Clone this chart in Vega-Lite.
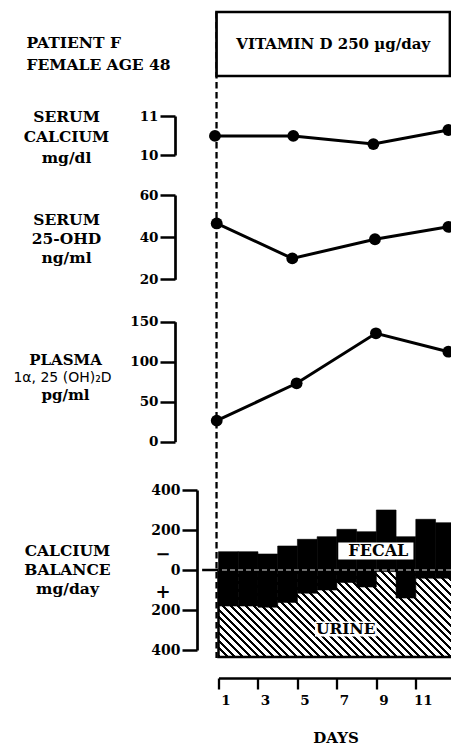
{
  "$schema": "https://vega.github.io/schema/vega-lite/v6.json",
  "autosize": {"type": "none"},
  "width": 232.5,
  "height": 646,
  "padding": {"left": 218.5, "top": 12, "right": 0, "bottom": 89},
  "background": "white",
  "config": {
    "view": {"stroke": null},
    "axis": {"grid": false, "domainColor": "black", "tickColor": "black", "labelColor": "black", "titleColor": "black",
      "labelFont": "DejaVu Serif", "labelFontWeight": "bold", "titleFont": "DejaVu Serif", "titleFontWeight": "bold",
      "labelFlush": false, "labelOverlap": false}
  },
  "datasets": {
    "treatment": [{"label": "VITAMIN D 250 µg/day", "start": 0.4, "end": 12.23}],
    "measurements": [
      {"measure": "Serum calcium", "day": 0.32, "value": 10.49},
      {"measure": "Serum calcium", "day": 4.29, "value": 10.49},
      {"measure": "Serum calcium", "day": 8.35, "value": 10.28},
      {"measure": "Serum calcium", "day": 12.15, "value": 10.64},
      {"measure": "Serum 25-OHD", "day": 0.41, "value": 46.5},
      {"measure": "Serum 25-OHD", "day": 4.24, "value": 29.9},
      {"measure": "Serum 25-OHD", "day": 8.43, "value": 39.0},
      {"measure": "Serum 25-OHD", "day": 12.15, "value": 44.9},
      {"measure": "Plasma 1,25(OH)2D", "day": 0.41, "value": 26.3},
      {"measure": "Plasma 1,25(OH)2D", "day": 4.46, "value": 73},
      {"measure": "Plasma 1,25(OH)2D", "day": 8.48, "value": 135.5},
      {"measure": "Plasma 1,25(OH)2D", "day": 12.15, "value": 112.5}
    ],
    "balance": [
      {"day": 1, "fecalTop": 91.5, "urineTop": -180},
      {"day": 2, "fecalTop": 91.5, "urineTop": -180},
      {"day": 3, "fecalTop": 80, "urineTop": -186},
      {"day": 4, "fecalTop": 120, "urineTop": -162},
      {"day": 5, "fecalTop": 153.5, "urineTop": -116},
      {"day": 6, "fecalTop": 166.5, "urineTop": -100},
      {"day": 7, "fecalTop": 203.5, "urineTop": -62},
      {"day": 8, "fecalTop": 191.5, "urineTop": -85},
      {"day": 9, "fecalTop": 300, "urineTop": -8},
      {"day": 10, "fecalTop": 166.5, "urineTop": -140},
      {"day": 11, "fecalTop": 253.5, "urineTop": -41},
      {"day": 12, "fecalTop": 236.5, "urineTop": -41}
    ],
    "intake": [{"firstDay": 0.5, "lastDay": 12.5, "upper": 0, "intake": -435}]
  },
  "resolve": {"scale": {"y": "independent"}, "axis": {"y": "independent"}},
  "layer": [
    {
      "data": {"name": "treatment"},
      "mark": {"type": "rule", "color": "black", "strokeWidth": 2.3, "strokeDash": [6.5, 3.5]},
      "encoding": {"x": {"field": "start", "type": "quantitative", "scale": {"domain": [0.5, 12.284], "nice": false, "zero": false}}}
    },
    {
      "data": {"name": "treatment"},
      "layer": [
        {
          "mark": {"type": "rect", "fill": "white", "stroke": "black", "strokeWidth": 2.7},
          "encoding": {
            "x": {"field": "start", "type": "quantitative", "scale": {"domain": [0.5, 12.284], "nice": false, "zero": false}},
            "x2": {"field": "end"},
            "y": {"datum": 0, "type": "quantitative", "scale": {"domain": [0, 1], "range": [64, 0], "nice": false, "zero": false},
              "axis": {"orient": "left", "offset": 43.5, "domain": false, "ticks": false, "labels": false,
                "title": ["PATIENT F", "FEMALE AGE 48"], "titleAngle": 0, "titleAlign": "left", "titleBaseline": "middle",
                "titleX": -149, "titleY": 30, "titleFontSize": 15.5, "titleLineHeight": 22.5}},
            "y2": {"datum": 1}
          }
        },
        {
          "transform": [{"calculate": "(datum.start + datum.end) / 2", "as": "mid"}],
          "mark": {"type": "text", "font": "DejaVu Serif", "fontWeight": "bold", "fontSize": 15, "color": "black"},
          "encoding": {
            "x": {"field": "mid", "type": "quantitative", "scale": {"domain": [0.5, 12.284], "nice": false, "zero": false}},
            "y": {"datum": 0.5, "type": "quantitative", "scale": {"domain": [0, 1], "range": [64, 0], "nice": false, "zero": false}},
            "text": {"field": "label"}
          }
        }
      ]
    },
    {
      "data": {"name": "measurements"},
      "transform": [{"filter": "datum.measure == 'Serum calcium'"}],
      "encoding": {
        "x": {"field": "day", "type": "quantitative", "scale": {"domain": [0.5, 12.284], "nice": false, "zero": false}},
        "y": {"field": "value", "type": "quantitative", "scale": {"domain": [10, 11], "range": [143, 104], "nice": false, "zero": false},
          "axis": {"orient": "left", "offset": 43.5, "values": [10, 11], "format": "d", "tickSize": 15, "tickWidth": 2.5, "domainWidth": 2.7,
            "labelFontSize": 13.5, "labelPadding": 2,
            "title": ["SERUM", "CALCIUM", "mg/dl"], "titleAngle": 0, "titleAlign": "center", "titleBaseline": "middle",
            "titleX": -109, "titleY": 104, "titleFontSize": 15.5, "titleLineHeight": 20.5}}
      },
      "layer": [
        {"mark": {"type": "line", "color": "black", "strokeWidth": 3}},
        {"mark": {"type": "point", "filled": true, "size": 140, "color": "black", "opacity": 1}}
      ]
    },
    {
      "data": {"name": "measurements"},
      "transform": [{"filter": "datum.measure == 'Serum 25-OHD'"}],
      "encoding": {
        "x": {"field": "day", "type": "quantitative", "scale": {"domain": [0.5, 12.284], "nice": false, "zero": false}},
        "y": {"field": "value", "type": "quantitative", "scale": {"domain": [20, 60], "range": [267.3, 183], "nice": false, "zero": false},
          "axis": {"orient": "left", "offset": 43.5, "values": [20, 40, 60], "format": "d", "tickSize": 15, "tickWidth": 2.5, "domainWidth": 2.7,
            "labelFontSize": 13.5, "labelPadding": 2,
            "title": ["SERUM", "25-OHD", "ng/ml"], "titleAngle": 0, "titleAlign": "center", "titleBaseline": "middle",
            "titleX": -109, "titleY": 207, "titleFontSize": 15.5, "titleLineHeight": 19}}
      },
      "layer": [
        {"mark": {"type": "line", "color": "black", "strokeWidth": 3}},
        {"mark": {"type": "point", "filled": true, "size": 140, "color": "black", "opacity": 1}}
      ]
    },
    {
      "data": {"name": "measurements"},
      "transform": [{"filter": "datum.measure == 'Plasma 1,25(OH)2D'"}],
      "resolve": {"scale": {"y": "independent"}, "axis": {"y": "independent"}},
      "layer": [
        {
          "mark": {"type": "line", "color": "black", "strokeWidth": 3},
          "encoding": {
            "x": {"field": "day", "type": "quantitative", "scale": {"domain": [0.5, 12.284], "nice": false, "zero": false}},
            "y": {"field": "value", "type": "quantitative", "scale": {"domain": [0, 150], "range": [429.7, 309.7], "nice": false, "zero": false},
              "axis": {"orient": "left", "offset": 43.5, "values": [0, 50, 100, 150], "format": "d", "tickSize": 15, "tickWidth": 2.5, "domainWidth": 2.7,
                "labelFontSize": 13.5, "labelPadding": 2,
                "title": ["PLASMA", "pg/ml"], "titleAngle": 0, "titleAlign": "center", "titleBaseline": "middle",
                "titleX": -110, "titleY": 347, "titleFontSize": 15, "titleLineHeight": 35}}
          }
        },
        {
          "mark": {"type": "point", "filled": true, "size": 140, "color": "black", "opacity": 1},
          "encoding": {
            "x": {"field": "day", "type": "quantitative", "scale": {"domain": [0.5, 12.284], "nice": false, "zero": false}},
            "y": {"field": "value", "type": "quantitative", "scale": {"domain": [0, 150], "range": [429.7, 309.7], "nice": false, "zero": false},
              "axis": {"orient": "left", "offset": 43.5, "domain": false, "ticks": false, "labels": false,
                "title": "1α, 25 (OH)₂D", "titleFont": "DejaVu Sans", "titleFontWeight": "normal", "titleAngle": 0, "titleAlign": "center", "titleBaseline": "middle",
                "titleX": -113, "titleY": 365, "titleFontSize": 14}}
          }
        }
      ]
    },
    {
      "layer": [
        {
          "data": {"name": "intake"},
          "mark": {"type": "rect", "stroke": "black", "strokeWidth": 2.5,
            "fill": {"gradient": "linear", "x1": 0, "y1": 1, "x2": 1.2048, "y2": 0.5573, "stops": [
              {"offset": 0, "color": "black"}, {"offset": 0.00929, "color": "black"}, {"offset": 0.00929, "color": "white"}, {"offset": 0.02381, "color": "white"},
              {"offset": 0.02381, "color": "black"}, {"offset": 0.03310, "color": "black"}, {"offset": 0.03310, "color": "white"}, {"offset": 0.04762, "color": "white"},
              {"offset": 0.04762, "color": "black"}, {"offset": 0.05690, "color": "black"}, {"offset": 0.05690, "color": "white"}, {"offset": 0.07143, "color": "white"},
              {"offset": 0.07143, "color": "black"}, {"offset": 0.08071, "color": "black"}, {"offset": 0.08071, "color": "white"}, {"offset": 0.09524, "color": "white"},
              {"offset": 0.09524, "color": "black"}, {"offset": 0.10452, "color": "black"}, {"offset": 0.10452, "color": "white"}, {"offset": 0.11905, "color": "white"},
              {"offset": 0.11905, "color": "black"}, {"offset": 0.12833, "color": "black"}, {"offset": 0.12833, "color": "white"}, {"offset": 0.14286, "color": "white"},
              {"offset": 0.14286, "color": "black"}, {"offset": 0.15214, "color": "black"}, {"offset": 0.15214, "color": "white"}, {"offset": 0.16667, "color": "white"},
              {"offset": 0.16667, "color": "black"}, {"offset": 0.17595, "color": "black"}, {"offset": 0.17595, "color": "white"}, {"offset": 0.19048, "color": "white"},
              {"offset": 0.19048, "color": "black"}, {"offset": 0.19976, "color": "black"}, {"offset": 0.19976, "color": "white"}, {"offset": 0.21429, "color": "white"},
              {"offset": 0.21429, "color": "black"}, {"offset": 0.22357, "color": "black"}, {"offset": 0.22357, "color": "white"}, {"offset": 0.23810, "color": "white"},
              {"offset": 0.23810, "color": "black"}, {"offset": 0.24738, "color": "black"}, {"offset": 0.24738, "color": "white"}, {"offset": 0.26190, "color": "white"},
              {"offset": 0.26190, "color": "black"}, {"offset": 0.27119, "color": "black"}, {"offset": 0.27119, "color": "white"}, {"offset": 0.28571, "color": "white"},
              {"offset": 0.28571, "color": "black"}, {"offset": 0.29500, "color": "black"}, {"offset": 0.29500, "color": "white"}, {"offset": 0.30952, "color": "white"},
              {"offset": 0.30952, "color": "black"}, {"offset": 0.31881, "color": "black"}, {"offset": 0.31881, "color": "white"}, {"offset": 0.33333, "color": "white"},
              {"offset": 0.33333, "color": "black"}, {"offset": 0.34262, "color": "black"}, {"offset": 0.34262, "color": "white"}, {"offset": 0.35714, "color": "white"},
              {"offset": 0.35714, "color": "black"}, {"offset": 0.36643, "color": "black"}, {"offset": 0.36643, "color": "white"}, {"offset": 0.38095, "color": "white"},
              {"offset": 0.38095, "color": "black"}, {"offset": 0.39024, "color": "black"}, {"offset": 0.39024, "color": "white"}, {"offset": 0.40476, "color": "white"},
              {"offset": 0.40476, "color": "black"}, {"offset": 0.41405, "color": "black"}, {"offset": 0.41405, "color": "white"}, {"offset": 0.42857, "color": "white"},
              {"offset": 0.42857, "color": "black"}, {"offset": 0.43786, "color": "black"}, {"offset": 0.43786, "color": "white"}, {"offset": 0.45238, "color": "white"},
              {"offset": 0.45238, "color": "black"}, {"offset": 0.46167, "color": "black"}, {"offset": 0.46167, "color": "white"}, {"offset": 0.47619, "color": "white"},
              {"offset": 0.47619, "color": "black"}, {"offset": 0.48548, "color": "black"}, {"offset": 0.48548, "color": "white"}, {"offset": 0.50000, "color": "white"},
              {"offset": 0.50000, "color": "black"}, {"offset": 0.50929, "color": "black"}, {"offset": 0.50929, "color": "white"}, {"offset": 0.52381, "color": "white"},
              {"offset": 0.52381, "color": "black"}, {"offset": 0.53310, "color": "black"}, {"offset": 0.53310, "color": "white"}, {"offset": 0.54762, "color": "white"},
              {"offset": 0.54762, "color": "black"}, {"offset": 0.55690, "color": "black"}, {"offset": 0.55690, "color": "white"}, {"offset": 0.57143, "color": "white"},
              {"offset": 0.57143, "color": "black"}, {"offset": 0.58071, "color": "black"}, {"offset": 0.58071, "color": "white"}, {"offset": 0.59524, "color": "white"},
              {"offset": 0.59524, "color": "black"}, {"offset": 0.60452, "color": "black"}, {"offset": 0.60452, "color": "white"}, {"offset": 0.61905, "color": "white"},
              {"offset": 0.61905, "color": "black"}, {"offset": 0.62833, "color": "black"}, {"offset": 0.62833, "color": "white"}, {"offset": 0.64286, "color": "white"},
              {"offset": 0.64286, "color": "black"}, {"offset": 0.65214, "color": "black"}, {"offset": 0.65214, "color": "white"}, {"offset": 0.66667, "color": "white"},
              {"offset": 0.66667, "color": "black"}, {"offset": 0.67595, "color": "black"}, {"offset": 0.67595, "color": "white"}, {"offset": 0.69048, "color": "white"},
              {"offset": 0.69048, "color": "black"}, {"offset": 0.69976, "color": "black"}, {"offset": 0.69976, "color": "white"}, {"offset": 0.71429, "color": "white"},
              {"offset": 0.71429, "color": "black"}, {"offset": 0.72357, "color": "black"}, {"offset": 0.72357, "color": "white"}, {"offset": 0.73810, "color": "white"},
              {"offset": 0.73810, "color": "black"}, {"offset": 0.74738, "color": "black"}, {"offset": 0.74738, "color": "white"}, {"offset": 0.76190, "color": "white"},
              {"offset": 0.76190, "color": "black"}, {"offset": 0.77119, "color": "black"}, {"offset": 0.77119, "color": "white"}, {"offset": 0.78571, "color": "white"},
              {"offset": 0.78571, "color": "black"}, {"offset": 0.79500, "color": "black"}, {"offset": 0.79500, "color": "white"}, {"offset": 0.80952, "color": "white"},
              {"offset": 0.80952, "color": "black"}, {"offset": 0.81881, "color": "black"}, {"offset": 0.81881, "color": "white"}, {"offset": 0.83333, "color": "white"},
              {"offset": 0.83333, "color": "black"}, {"offset": 0.84262, "color": "black"}, {"offset": 0.84262, "color": "white"}, {"offset": 0.85714, "color": "white"},
              {"offset": 0.85714, "color": "black"}, {"offset": 0.86643, "color": "black"}, {"offset": 0.86643, "color": "white"}, {"offset": 0.88095, "color": "white"},
              {"offset": 0.88095, "color": "black"}, {"offset": 0.89024, "color": "black"}, {"offset": 0.89024, "color": "white"}, {"offset": 0.90476, "color": "white"},
              {"offset": 0.90476, "color": "black"}, {"offset": 0.91405, "color": "black"}, {"offset": 0.91405, "color": "white"}, {"offset": 0.92857, "color": "white"},
              {"offset": 0.92857, "color": "black"}, {"offset": 0.93786, "color": "black"}, {"offset": 0.93786, "color": "white"}, {"offset": 0.95238, "color": "white"},
              {"offset": 0.95238, "color": "black"}, {"offset": 0.96167, "color": "black"}, {"offset": 0.96167, "color": "white"}, {"offset": 0.97619, "color": "white"},
              {"offset": 0.97619, "color": "black"}, {"offset": 0.98548, "color": "black"}, {"offset": 0.98548, "color": "white"}, {"offset": 1, "color": "white"}
            ]}},
          "encoding": {
            "x": {"field": "firstDay", "type": "quantitative", "scale": {"domain": [0.5, 12.284], "nice": false, "zero": false}},
            "x2": {"field": "lastDay"},
            "y": {"field": "upper", "type": "quantitative", "scale": {"domain": [-400, 400], "range": [638, 478], "nice": false, "zero": false}},
            "y2": {"field": "intake"}
          }
        },
        {
          "data": {"name": "balance"},
          "transform": [
            {"calculate": "datum.day - 0.5", "as": "start"},
            {"calculate": "datum.day + 0.5", "as": "end"}
          ],
          "mark": {"type": "rect", "fill": "black", "stroke": "black", "strokeWidth": 0.6},
          "encoding": {
            "x": {"field": "start", "type": "quantitative", "scale": {"domain": [0.5, 12.284], "nice": false, "zero": false},
              "axis": {"orient": "bottom", "offset": 20, "values": [0.5, 1.5, 2.5, 3.5, 4.5, 5.5, 6.5, 7.5, 8.5, 9.5, 10.5, 11.5],
                "tickSize": 11, "tickWidth": 2.3, "domainWidth": 2.7,
                "labelExpr": "(datum.value + 0.5) % 2 == 1 ? '' + (datum.value + 0.5) : ''",
                "labelOffset": 7, "labelPadding": 4, "labelFontSize": 13.5,
                "title": "DAYS", "titleX": 117, "titleY": 59, "titleAlign": "center", "titleBaseline": "middle", "titleFontSize": 15}},
            "x2": {"field": "end"},
            "y": {"field": "fecalTop", "type": "quantitative", "scale": {"domain": [-400, 400], "range": [638, 478], "nice": false, "zero": false},
              "axis": {"orient": "left", "offset": 21.5, "values": [-400, -200, -110, 0, 80, 200, 400],
                "tickSize": 15, "tickWidth": 2.5, "domainWidth": 2.7,
                "tickOpacity": {"condition": {"test": "datum.value == 80 || datum.value == -110", "value": 0}, "value": 1},
                "labelPadding": {"condition": {"test": "datum.value == 80 || datum.value == -110", "value": 12}, "value": 2},
                "labelFontSize": {"condition": {"test": "datum.value == 80 || datum.value == -110", "value": 18}, "value": 14},
                "labelExpr": "datum.value == 80 ? '−' : datum.value == -110 ? '+' : format(abs(datum.value), 'd')",
                "title": ["CALCIUM", "BALANCE", "mg/day"], "titleAngle": 0, "titleAlign": "center", "titleBaseline": "middle",
                "titleX": -130, "titleY": 538, "titleFontSize": 15.5, "titleLineHeight": 19}},
            "y2": {"field": "urineTop"}
          }
        },
        {
          "data": {"values": [{"balance": 0}]},
          "mark": {"type": "rule", "color": "#e0e0e0", "strokeWidth": 1, "strokeDash": [5, 3]},
          "encoding": {
            "y": {"field": "balance", "type": "quantitative", "scale": {"domain": [-400, 400], "range": [638, 478], "nice": false, "zero": false}}
          }
        },
        {
          "data": {"values": [{"balance": 0, "from": -0.33, "to": 0.5}]},
          "mark": {"type": "rule", "color": "black", "strokeWidth": 2.5},
          "encoding": {
            "x": {"field": "from", "type": "quantitative", "scale": {"domain": [0.5, 12.284], "nice": false, "zero": false}},
            "x2": {"field": "to"},
            "y": {"field": "balance", "type": "quantitative", "scale": {"domain": [-400, 400], "range": [638, 478], "nice": false, "zero": false}}
          }
        },
        {
          "data": {"values": [{"label": "FECAL", "x1": 6.57, "x2": 10.38, "y1": 137.5, "y2": 52.5, "xc": 8.6, "yc": 96}]},
          "layer": [
            {
              "mark": {"type": "rect", "fill": "white"},
              "encoding": {
                "x": {"field": "x1", "type": "quantitative", "scale": {"domain": [0.5, 12.284], "nice": false, "zero": false}},
                "x2": {"field": "x2"},
                "y": {"field": "y1", "type": "quantitative", "scale": {"domain": [-400, 400], "range": [638, 478], "nice": false, "zero": false}},
                "y2": {"field": "y2"}
              }
            },
            {
              "mark": {"type": "text", "font": "DejaVu Serif", "fontWeight": "bold", "fontSize": 16, "color": "black"},
              "encoding": {
                "x": {"field": "xc", "type": "quantitative", "scale": {"domain": [0.5, 12.284], "nice": false, "zero": false}},
                "y": {"field": "yc", "type": "quantitative", "scale": {"domain": [-400, 400], "range": [638, 478], "nice": false, "zero": false}},
                "text": {"field": "label"}
              }
            }
          ]
        },
        {
          "data": {"values": [{"label": "URINE", "x1": 5.39, "x2": 8.52, "y1": -258, "y2": -333, "xc": 6.95, "yc": -296}]},
          "layer": [
            {
              "mark": {"type": "rect", "fill": "white"},
              "encoding": {
                "x": {"field": "x1", "type": "quantitative", "scale": {"domain": [0.5, 12.284], "nice": false, "zero": false}},
                "x2": {"field": "x2"},
                "y": {"field": "y1", "type": "quantitative", "scale": {"domain": [-400, 400], "range": [638, 478], "nice": false, "zero": false}},
                "y2": {"field": "y2"}
              }
            },
            {
              "mark": {"type": "text", "font": "DejaVu Serif", "fontWeight": "bold", "fontSize": 15.5, "color": "black"},
              "encoding": {
                "x": {"field": "xc", "type": "quantitative", "scale": {"domain": [0.5, 12.284], "nice": false, "zero": false}},
                "y": {"field": "yc", "type": "quantitative", "scale": {"domain": [-400, 400], "range": [638, 478], "nice": false, "zero": false}},
                "text": {"field": "label"}
              }
            }
          ]
        }
      ]
    }
  ]
}
